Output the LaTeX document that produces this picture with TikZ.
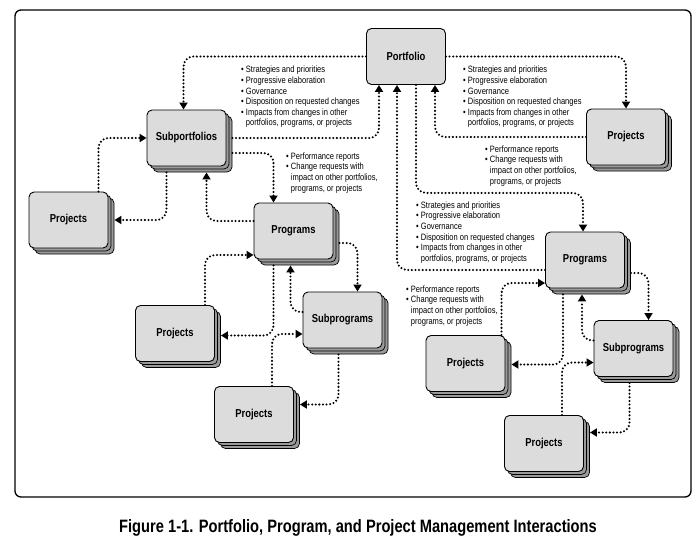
\documentclass[tikz,border=0pt]{standalone}
\usepackage{fontspec}
\setmainfont{Liberation Sans}[FakeStretch=0.82]
\usetikzlibrary{arrows.meta,shadows}
\definecolor{boxgray}{HTML}{DCDCDC}
\definecolor{stackgray}{HTML}{9A9A9A}
\begin{document}
\begin{tikzpicture}[x=1pt,y=-1pt,
  box/.style={draw=black, line width=0.9pt, rounded corners=5pt, fill=boxgray,
    minimum width=79pt, minimum height=56pt, inner sep=0pt,
    font=\bfseries\fontsize{11.5}{13}\selectfont},
  stack/.style={box, double copy shadow={shadow xshift=3pt, shadow yshift=-3pt,
    fill=stackgray, draw=black, line width=0.7pt}},
  conn/.style={line width=2.3pt, dash pattern=on 0pt off 3.6pt, line cap=round,
    rounded corners=10pt, -{Triangle[length=7pt,width=8pt]}},
  lst/.style={anchor=north west, align=left, inner sep=0pt,
    font=\fontsize{9.2}{10.6}\selectfont}
]
\useasboundingbox (0,0) rectangle (699,544);
\draw[line width=1.3pt, rounded corners=6pt] (15,10) rectangle (691,497);

% nodes
\node[box]   (portfolio)     at (406,56.5)  {Portfolio};
\node[stack] (subportfolios) at (186.5,138) {Subportfolios};
\node[stack] (projL)         at (68.5,220)  {Projects};
\node[stack] (projTR)        at (626,137)   {Projects};
\node[stack] (progL)         at (293.5,231) {Programs};
\node[stack] (projML)        at (175,333.5) {Projects};
\node[stack] (subprogL)      at (342.5,320) {Subprograms};
\node[stack] (projBL)        at (254,414.5) {Projects};
\node[stack] (progR)         at (585,260)   {Programs};
\node[stack] (projMR)        at (465.5,363.5) {Projects};
\node[stack] (subprogR)      at (633.5,348.5) {Subprograms};
\node[stack] (projBR)        at (544,443.5) {Projects};

% portfolio level
\draw[conn] (portfolio.west) -| ([xshift=-3pt]subportfolios.north);
\draw[conn] ([xshift=6pt]subportfolios.east) -| ([xshift=-27pt]portfolio.south);
\draw[conn] (portfolio.east) -| (projTR.north);
\draw[conn] (projTR.west) -| ([xshift=29pt]portfolio.south);
\draw[conn] ([yshift=-10pt]progR.west) -| ([xshift=-9pt]portfolio.south);
\draw[conn] ([xshift=10pt]portfolio.south) -- ++(0,108) -| ([xshift=-2pt]progR.north);

% subportfolios
\draw[conn] ([xshift=30pt]projL.north) |- (subportfolios.west);
\draw[conn] ([xshift=-20pt,yshift=-6pt]subportfolios.south) |- ([xshift=6pt]projL.east);
\draw[conn] ([xshift=6pt,yshift=-15pt]subportfolios.east) -| ([xshift=-20pt]progL.north);
\draw[conn] ([yshift=10pt]progL.west) -| ([xshift=20pt,yshift=-6pt]subportfolios.south);

% left programs
\draw[conn] ([xshift=30pt]projML.north) |- ([yshift=-24pt]progL.west);
\draw[conn] ([xshift=-20pt,yshift=-6pt]progL.south) |- ([xshift=6pt,yshift=-2pt]projML.east);
\draw[conn] ([xshift=6pt,yshift=-12pt]progL.east) -| ([xshift=15pt]subprogL.north);
\draw[conn] ([yshift=8pt]subprogL.west) -| ([xshift=-3pt,yshift=-6pt]progL.south);
\draw[conn] ([xshift=18pt]projBL.north) |- ([yshift=-14pt]subprogL.west);
\draw[conn] ([xshift=-4pt,yshift=-6pt]subprogL.south) |- ([xshift=6pt,yshift=10pt]projBL.east);

% right programs
\draw[conn] ([xshift=36pt]projMR.north) |- ([yshift=-23pt]progR.west);
\draw[conn] ([xshift=-22pt,yshift=-6pt]progR.south) |- ([xshift=6pt,yshift=-1pt]projMR.east);
\draw[conn] ([xshift=6pt,yshift=-13pt]progR.east) -| ([xshift=15pt]subprogR.north);
\draw[conn] ([yshift=8pt]subprogR.west) -| ([xshift=-3pt,yshift=-6pt]progR.south);
\draw[conn] ([xshift=18pt]projBR.north) |- ([yshift=-14pt]subprogR.west);
\draw[conn] ([xshift=-4pt,yshift=-6pt]subprogR.south) |- ([xshift=6pt,yshift=11pt]projBR.east);

% text lists
\node[lst] (tA) at (241,66) {\textbullet\ Strategies and priorities\\
  \textbullet\ Progressive elaboration\\ \textbullet\ Governance\\
  \textbullet\ Disposition on requested changes\\
  \textbullet\ Impacts from changes in other\\
  \phantom{\textbullet\ }portfolios, programs, or projects};
\node[lst] (tB) at (463,66) {\textbullet\ Strategies and priorities\\
  \textbullet\ Progressive elaboration\\ \textbullet\ Governance\\
  \textbullet\ Disposition on requested changes\\
  \textbullet\ Impacts from changes in other\\
  \phantom{\textbullet\ }portfolios, programs, or projects};
\node[lst] (tE) at (416,201.5) {\textbullet\ Strategies and priorities\\
  \textbullet\ Progressive elaboration\\ \textbullet\ Governance\\
  \textbullet\ Disposition on requested changes\\
  \textbullet\ Impacts from changes in other\\
  \phantom{\textbullet\ }portfolios, programs, or projects};
\node[lst] (tC) at (286,152.5) {\textbullet\ Performance reports\\
  \textbullet\ Change requests with\\
  \phantom{\textbullet\ }impact on other portfolios,\\
  \phantom{\textbullet\ }programs, or projects};
\node[lst] (tD) at (485,145.5) {\textbullet\ Performance reports\\
  \textbullet\ Change requests with\\
  \phantom{\textbullet\ }impact on other portfolios,\\
  \phantom{\textbullet\ }programs, or projects};
\node[lst] (tF) at (406,285.5) {\textbullet\ Performance reports\\
  \textbullet\ Change requests with\\
  \phantom{\textbullet\ }impact on other portfolios,\\
  \phantom{\textbullet\ }programs, or projects};

\node[font=\bfseries\fontsize{17.9}{20}\selectfont] (caption) at (358,528)
  {Figure 1-1. Portfolio, Program, and Project Management Interactions};
\end{tikzpicture}
\end{document}
